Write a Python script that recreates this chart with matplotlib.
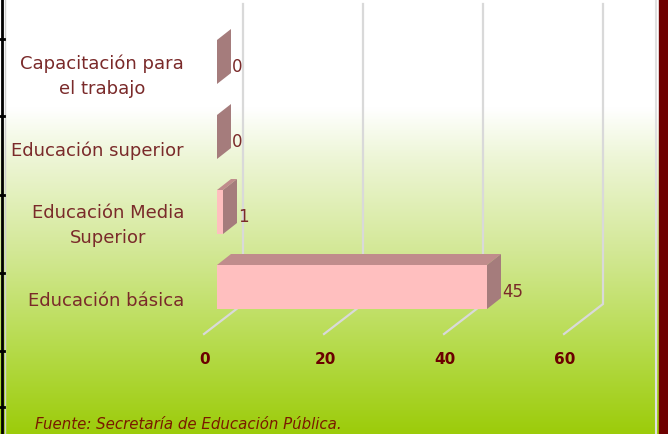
import numpy as np
import matplotlib.pyplot as plt
from matplotlib.patches import Polygon
from matplotlib.colors import LinearSegmentedColormap
from matplotlib.lines import Line2D

categories = ["Educación básica", "Educación Media\nSuperior", "Educación superior",
              "Capacitación para\nel trabajo"]
values = [45, 1, 0, 0]
ticks = [0, 20, 40, 60]
source = "Fuente: Secretaría de Educación Pública."

W, H = 668, 435
PX = 6.0      # pixels per value unit
PY = 75.0     # pixels per category step

front_col = "#ffbfbf"
top_col = "#c08c8c"
side_col = "#a57c7c"
label_col = "#7a2a2a"
tick_col = "#6b0000"

fig = plt.figure(figsize=(W / 100, H / 100), dpi=100)

# gradient background
bg = fig.add_axes([0, 0, 1, 1])
cmap = LinearSegmentedColormap.from_list(
    "bg", [(0, "#ffffff"), (0.25, "#ffffff"), (0.36, "#eef6d8"),
           (0.58, "#d3e896"), (0.8, "#b6db4c"), (1.0, "#9ccc0a")])
bg.imshow(np.linspace(0, 1, 256).reshape(-1, 1), aspect="auto", cmap=cmap,
          extent=[0, 1, 1, 0])
bg.set_xlim(0, 1)
bg.set_ylim(1, 0)
bg.axis("off")

ax = fig.add_axes([0, 0, 1, 1])
ax.patch.set_visible(False)
ax.set_xlim(-217 / PX, (W - 217) / PX)
ax.set_ylim((288 - H) / PY, 288 / PY)
ax.axis("off")

bar_h = 44 / PY
ddx, ddy = 14 / PX, 11 / PY          # bar depth
wall_dx = 26 / PX                     # back wall offset
wall_bottom = (288 - 305) / PY
wall_top = (288 - 5) / PY
floor_dx, floor_y = -13 / PX, (288 - 335) / PY

# back wall gridlines and floor lines
for t in ticks:
    ax.plot([t + wall_dx, t + wall_dx, t + floor_dx],
            [wall_top, wall_bottom, floor_y], color="#d9d9d9", lw=1.6,
            solid_joinstyle="miter", zorder=1)
    ax.text(t - 2, (288 - 359) / PY, str(t), ha="center", va="center",
            color=tick_col, fontsize=11, fontweight="bold", family="DejaVu Sans")

# 3D bars
for i, (cat, v) in enumerate(zip(categories, values)):
    y0, y1 = i - bar_h / 2, i + bar_h / 2
    ax.add_patch(Polygon([(0, y1), (v, y1), (v + ddx, y1 + ddy), (ddx, y1 + ddy)],
                         closed=True, fc=top_col, ec="none", zorder=3))
    ax.add_patch(Polygon([(v, y0), (v + ddx, y0 + ddy), (v + ddx, y1 + ddy), (v, y1)],
                         closed=True, fc=side_col, ec="none", zorder=3))
    if v > 0:
        ax.add_patch(Polygon([(0, y0), (v, y0), (v, y1), (0, y1)],
                             closed=True, fc=front_col, ec="none", zorder=4))
    ax.text(v + ddx + 0.2, i - 0.05, str(v), ha="left", va="center",
            color=label_col, fontsize=12, family="DejaVu Sans")
    ax.text(-33 / PX, i - 13 / PY, cat, ha="right", va="center", multialignment="center",
            color=label_col, fontsize=13, family="DejaVu Sans", linespacing=1.5)

fig.text(35 / W, 1 - 425 / H, source, ha="left", va="center", color="#7a1a00",
         fontsize=10.8, style="italic", family="DejaVu Sans")

# frame decorations
fig.add_artist(Line2D([1.5 / W, 1.5 / W], [0, 1], color="black", lw=2))
fig.add_artist(Line2D([5 / W, 5 / W], [0, 1], color="#d0d0d0", lw=1))
for yy in [40, 117, 196, 274, 352, 408]:
    fig.add_artist(Line2D([0, 4 / W], [1 - yy / H] * 2, color="black", lw=2))
fig.add_artist(Line2D([656 / W, 656 / W], [0, 1], color="#e0e0e0", lw=1.5))
fig.add_artist(plt.Rectangle((659 / W, 0), 9 / W, 1, color="#6e0000"))

fig.savefig("out.png", dpi=100)
